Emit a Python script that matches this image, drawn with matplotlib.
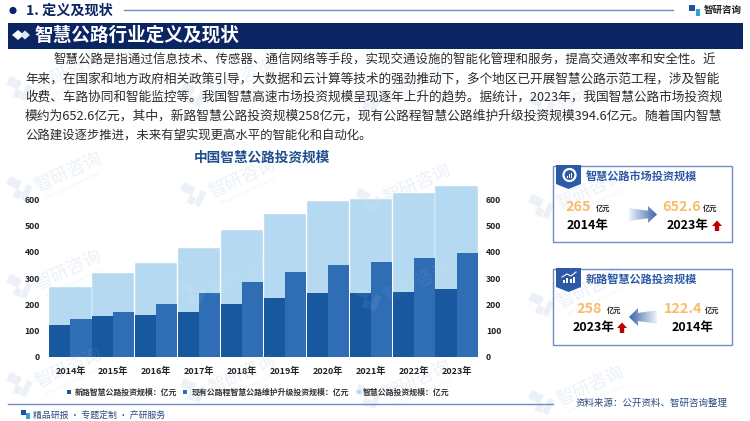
"""Smart highway investment slide."""
import matplotlib
matplotlib.use('Agg')
from matplotlib import pyplot as plt
from matplotlib.patches import Circle, Polygon, Rectangle
import numpy as np

plt.rcParams['font.family'] = ['Noto Sans CJK SC', 'DejaVu Sans']

W, H = 750, 421
NAVY = '#0b2563'
BORDER = '#6f8cc4'
ORANGE = '#f9bb6c'

years = ['2014年', '2015年', '2016年', '2017年', '2018年',
         '2019年', '2020年', '2021年', '2022年', '2023年']
new_road = [122.4, 155, 159, 169, 201, 225, 242, 242, 248, 258]
existing_road = [142, 169, 200, 243, 285, 322, 351, 360, 375, 394.6]
total = [265, 320, 358, 413, 484, 545, 595, 600, 626, 652.6]
y_ticks = [0, 100, 200, 300, 400, 500, 600]

legend_labels = ['新路智慧公路投资规模：亿元',
                 '现有公路程智慧公路维护升级投资规模：亿元',
                 '智慧公路投资规模：亿元']
bar_colors = ['#17589f', '#2f6eb5', '#b5d9f0']

body_lines = [
    '智慧公路是指通过信息技术、传感器、通信网络等手段，实现交通设施的智能化管理和服务，提高交通效率和安全性。近',
    '年来，在国家和地方政府相关政策引导，大数据和云计算等技术的强劲推动下，多个地区已开展智慧公路示范工程，涉及智能',
    '收费、车路协同和智能监控等。我国智慧高速市场投资规模呈现逐年上升的趋势。据统计，2023年，我国智慧公路市场投资规',
    '模约为652.6亿元，其中，新路智慧公路投资规模258亿元，现有公路程智慧公路维护升级投资规模394.6亿元。随着国内智慧',
    '公路建设逐步推进，未来有望实现更高水平的智能化和自动化。',
]
body_sizes = [8.98, 9.14, 9.12, 9.22, 8.93]


def px_axes(fig, zorder):
    """Make a full figure axes that works in image pixels."""
    ax = fig.add_axes([0, 0, 1, 1], zorder=zorder)
    ax.set_xlim(0, W)
    ax.set_ylim(H, 0)
    ax.axis('off')
    ax.patch.set_alpha(0)
    return ax


def watermarks(ax, color, alpha, small=True):
    """Draw the repeated company watermark."""
    for col, x0 in enumerate((68, 242, 417, 590)):
        for y0 in (72, 172, 270, 368):
            yc = y0 + col * 6
            ax.text(x0, yc, '智研咨询', fontsize=13, color=color, alpha=alpha,
                    rotation=25, ha='center', va='center')
            if small:
                ax.text(x0 + 6, yc + 13, 'INTELLIGENCE RESEARCH GROUP',
                        fontsize=2.8, color=color, alpha=alpha, rotation=25,
                        ha='center', va='center')
            ax.add_patch(Rectangle((x0 - 58, yc + 4), 13, 9, angle=25,
                                   color=color, alpha=alpha, lw=0))
            ax.add_patch(Rectangle((x0 - 52, yc + 17), 7, 8, angle=25,
                                   color=color, alpha=alpha, lw=0))
            ax.add_patch(Rectangle((x0 - 41, yc + 12), 6, 16, angle=25,
                                   color=color, alpha=alpha, lw=0))


def gradient_arrow(ax, x0, x1, y0, y1, left=False):
    """Draw the fading block arrow between two numbers."""
    ym = (y0 + y1) / 2
    hh = (y1 - y0) / 2
    if left:
        pts = [(x1, ym - hh * 0.75), (x0 + 9, ym - hh * 0.45), (x0 + 9, y0),
               (x0, ym), (x0 + 9, y1), (x0 + 9, ym + hh * 0.45),
               (x1, ym + hh * 0.75)]
        grad = np.linspace(1, 0, 64)[None, :]
    else:
        pts = [(x0, ym - hh * 0.75), (x1 - 9, ym - hh * 0.45), (x1 - 9, y0),
               (x1, ym), (x1 - 9, y1), (x1 - 9, ym + hh * 0.45),
               (x0, ym + hh * 0.75)]
        grad = np.linspace(0, 1, 64)[None, :]
    cmap = matplotlib.colors.LinearSegmentedColormap.from_list(
        'fade', ['#eef3fa', '#3a66ad'])
    im = ax.imshow(grad, extent=(x0, x1, y1, y0), cmap=cmap, aspect='auto',
                   zorder=3)
    patch = Polygon(pts, closed=True, fc='none', ec='none')
    ax.add_patch(patch)
    im.set_clip_path(patch)
    ax.set_xlim(0, W)
    ax.set_ylim(H, 0)


def up_arrow(ax, xc, yc):
    """Draw the small red up arrow."""
    pts = [(xc - 5, yc), (xc, yc - 5.5), (xc + 5, yc), (xc + 2.2, yc),
           (xc + 2.2, yc + 5), (xc - 2.2, yc + 5), (xc - 2.2, yc)]
    ax.add_patch(Polygon(pts, closed=True, fc='#c00000', ec='none', zorder=4))


def card(ax, y0, y1, title, icon):
    """Draw one summary card frame with ribbon and title."""
    ax.add_patch(Rectangle((553, y0), 179, y1 - y0, fc='none', ec=BORDER,
                           lw=1.0, zorder=3))
    pts = [(556, y0 - 1), (581, y0 - 1), (581, y0 + 18),
           (568.5, y0 + 23), (556, y0 + 18)]
    ax.add_patch(Polygon(pts, closed=True, fc='#2c5aa6', ec='none', zorder=4))
    if icon == 'ring':
        ax.add_patch(Circle((569.5, y0 + 9), 6, fc='none', ec='white', lw=1.6,
                            zorder=5))
        for dx, hgt in zip((-2, 0, 2), (2, 3.5, 5)):
            ax.add_patch(Rectangle((569.5 + dx - 0.6, y0 + 11.5 - hgt), 1.2,
                                   hgt, fc='white', ec='none', zorder=5))
    else:
        for dx, hgt in zip((-5, -1.5, 2, 5.5), (3, 5, 4, 6)):
            ax.add_patch(Rectangle((568.5 + dx - 1, y0 + 14 - hgt), 2,
                                   hgt, fc='white', ec='none', zorder=5))
        ax.plot([562, 567, 571, 576], [y0 + 8, y0 + 5, y0 + 7, y0 + 3],
                color='white', lw=0.8, zorder=5)
    ax.text(586, y0 + 11, title, fontsize=8, fontweight='bold',
            color='#2c5aa6', va='center', zorder=5)


def number(ax, x, y, value, unit_x):
    """Draw an orange value with its small unit."""
    ax.text(x, y, value, fontsize=10.4, fontweight='bold', color=ORANGE,
            ha='left', va='center', zorder=5)
    ax.text(unit_x, y + 1, '亿元', fontsize=5.2, fontweight='bold',
            color='#222222', ha='left', va='center', zorder=5)


def year_label(ax, x, y, text):
    """Draw a black card year."""
    ax.text(x, y, text, fontsize=9, fontweight='bold', color='black',
            ha='left', va='center', zorder=5)


def plot_chart(fig):
    """Plot the three overlapping bar series."""
    ax = fig.add_axes([49 / W, 1 - 356.7 / H, 429 / W, 185 / H], zorder=2)
    ax.patch.set_alpha(0)
    x = np.arange(len(years))
    ax.bar(x, total, width=0.985, color=bar_colors[2], edgecolor='white',
           linewidth=0.3)
    ax.bar(x - 0.24625, new_road, width=0.4925, color=bar_colors[0],
           edgecolor='none')
    ax.bar(x + 0.24625, existing_road, width=0.4925, color=bar_colors[1],
           edgecolor='none')
    ax.set_xlim(-0.5, 9.5)
    ax.set_ylim(0, 705.5)
    ax.set_xticks(x, years)
    ax.set_yticks(y_ticks)
    ax.tick_params(length=0, labelcolor='#222222')
    ax.tick_params(axis='x', labelsize=6.5, pad=7.5)
    ax.tick_params(axis='y', labelsize=6.2, pad=6.5)
    for lab in ax.get_xticklabels() + ax.get_yticklabels():
        lab.set_fontweight('bold')
    for side in ('top', 'left', 'right', 'bottom'):
        ax.spines[side].set_visible(False)

    ax2 = ax.twinx()
    ax2.set_ylim(ax.get_ylim())
    ax2.set_yticks(y_ticks)
    ax2.tick_params(length=0, labelsize=6.2, labelcolor='#222222', pad=5.8)
    for lab in ax2.get_yticklabels():
        lab.set_fontweight('bold')
    for side in ('top', 'left', 'right', 'bottom'):
        ax2.spines[side].set_visible(False)


def main():
    """Build the slide."""
    fig = plt.figure(figsize=(7.5, 4.21), dpi=100, facecolor='white')
    back = px_axes(fig, 0)
    top = px_axes(fig, 3)

    watermarks(back, '#e6eef6', 0.8)
    plot_chart(fig)
    watermarks(top, '#ffffff', 0.07, small=False)

    # header
    top.add_patch(Circle((13, 10.5), 3.6, fc=NAVY, ec='none'))
    top.text(26, 10.5, '1. 定义及现状', fontsize=10.2, fontweight='bold',
             color=NAVY, va='center')
    top.plot([124, 673], [10, 10], color=BORDER, lw=1.0)
    top.text(704, 10, '智研咨询', fontsize=6.8, fontweight='bold',
             color='#222222', va='center')
    top.add_patch(Rectangle((689, 5), 5.5, 6, fc='#1f4fa0', ec='none'))
    top.add_patch(Rectangle((695.5, 9), 4.5, 7, fc='#2aa5dc', ec='none'))
    top.add_patch(Rectangle((8, 22.5), 734.5, 26, fc=NAVY, ec='none'))
    top.add_patch(Polygon([(12, 35), (18, 30), (24, 35), (18, 40)], fc='white'))
    top.add_patch(Polygon([(20, 35), (25, 30.5), (30, 35), (25, 39.5)],
                          fc='#dfe6f2'))
    top.text(34, 35, '智慧公路行业定义及现状', fontsize=13.4, fontweight='bold',
             color='white', va='center')

    # body text
    line_y = [59.7, 78.7, 97.3, 116.3, 134.7]
    for i, line in enumerate(body_lines):
        top.text(54 if i == 0 else 25, line_y[i], line, fontsize=body_sizes[i],
                 color='#2b2b2b', va='center')

    # chart title and legend
    top.text(262, 158, '中国智慧公路投资规模', fontsize=9.8, fontweight='bold',
             color='#1f4e8c', ha='center', va='center')
    for sx, tx, label, col in zip((69, 185, 359), (75, 192, 363),
                                  legend_labels, bar_colors):
        top.add_patch(Rectangle((sx - 2, 390), 4, 4, fc=col, ec='none'))
        top.text(tx, 392, label, fontsize=5.7, fontweight='bold',
                 color='#333333', va='center')

    # summary cards
    card(top, 166, 242, '智慧公路市场投资规模', 'ring')
    number(top, 565, 207, '265', 596)
    year_label(top, 567, 225.5, '2014年')
    gradient_arrow(top, 629, 657, 206, 223)
    number(top, 662, 207, '652.6', 703)
    year_label(top, 667, 225.5, '2023年')
    up_arrow(top, 717, 226)

    card(top, 269, 345, '新路智慧公路投资规模', 'bars')
    number(top, 576, 309, '258', 607)
    year_label(top, 573, 328, '2023年')
    up_arrow(top, 622, 328)
    gradient_arrow(top, 629, 657, 308, 326, left=True)
    number(top, 664, 309, '122.4', 705)
    year_label(top, 672, 328, '2014年')

    # footer
    top.plot([8, 553], [404, 404], color=BORDER, lw=1.0)
    top.text(575, 403, '资料来源：公开资料、智研咨询整理', fontsize=6.8,
             color='#2a4a80', va='center')
    top.add_patch(Rectangle((21, 410), 4.5, 5, fc='#1f4fa0', ec='none'))
    top.add_patch(Rectangle((26, 413), 3.5, 6, fc='#2aa5dc', ec='none'))
    top.text(33, 415, '精品研报 · 专题定制 · 产研服务', fontsize=6.4,
             color='#2a4a80', va='center')

    fig.savefig('out.png', dpi=100)
    plt.close('all')


if __name__ == '__main__':
    main()
